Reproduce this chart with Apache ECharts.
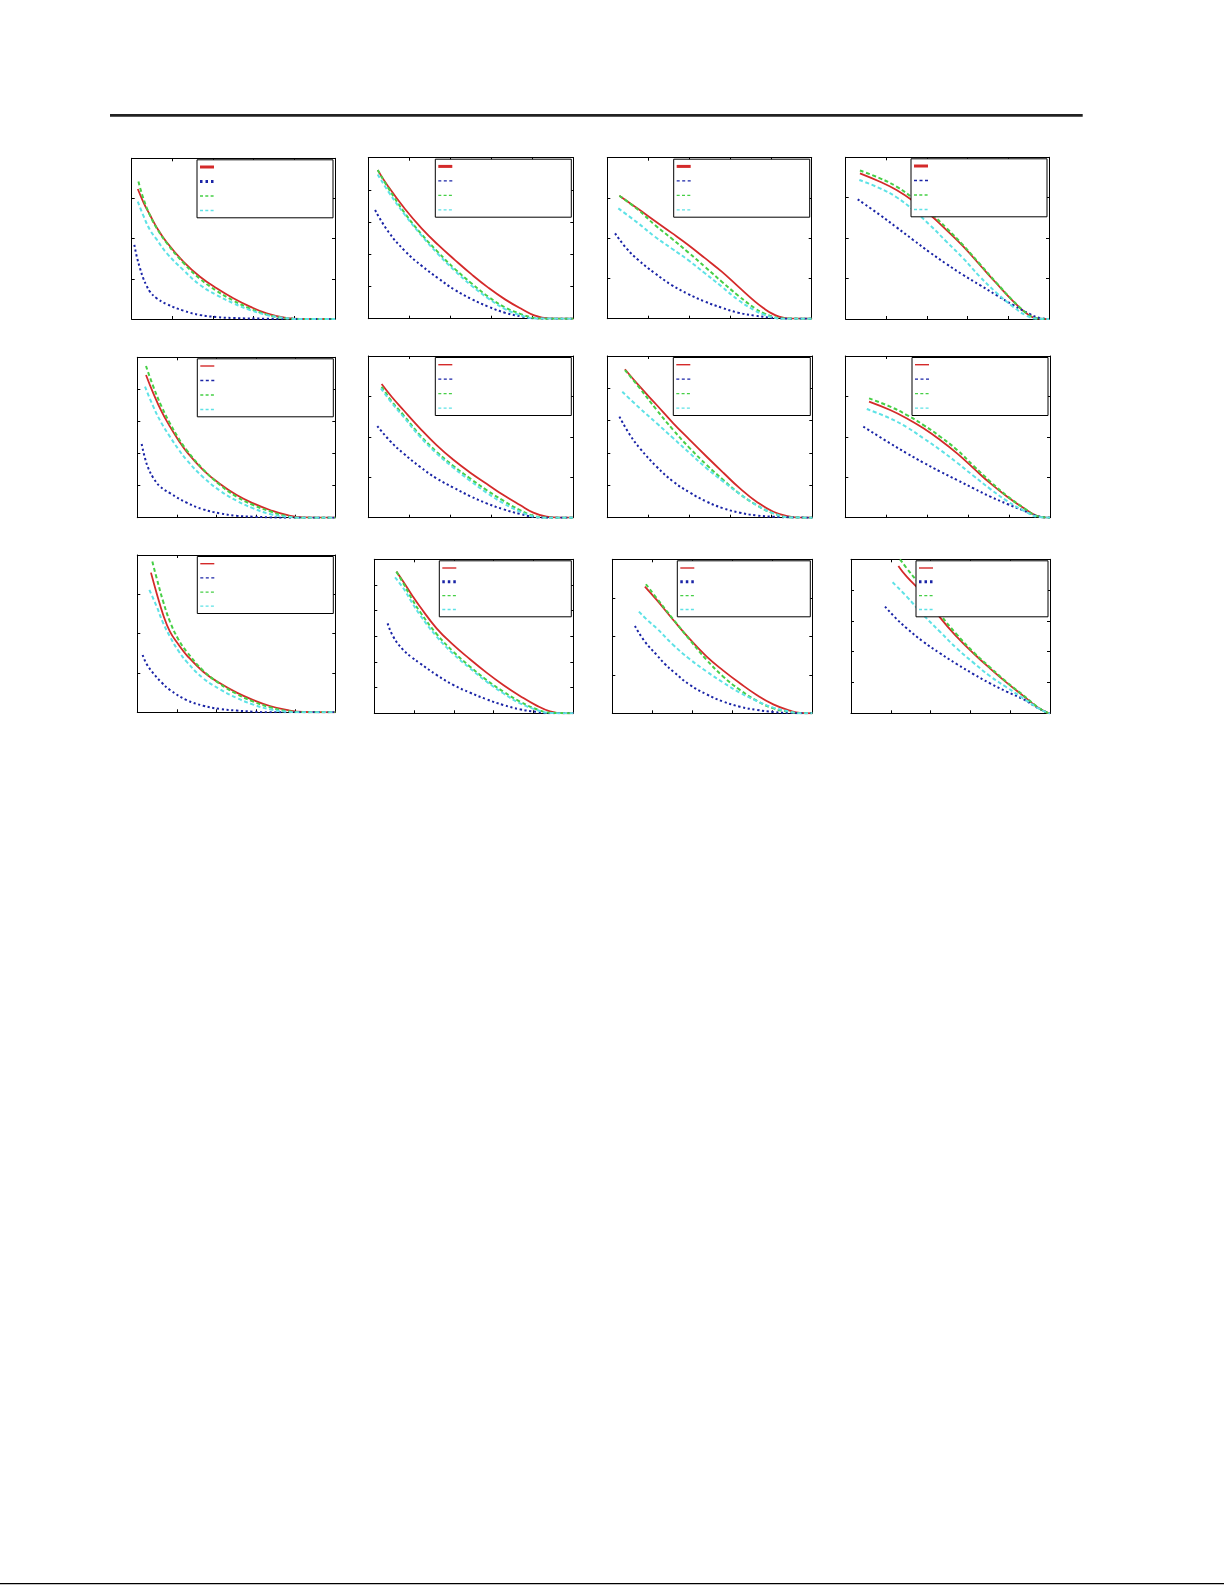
<!DOCTYPE html>
<html><head><meta charset="utf-8">
<script src="https://cdn.jsdelivr.net/npm/echarts@6/dist/echarts.min.js"></script>
<style>html,body{margin:0;padding:0;background:#fff}#c{width:1225px;height:1585px}</style>
</head><body><div id="c"></div>
<script>
// y-axis interval counts per panel (x axis always 0..100 in 5 steps)
const yIntervals = [4,5,4,4,5,4,5,4,4,6,4,5];
const xMin = 0, xMax = 100, xStep = 20;

// Panel data: [x %, y % of axis range]
const p1Red   = [[3,80.9],[6,72],[9,64.7],[12.3,57],[17.2,47.8],[25.4,35.7],[33.6,26.3],[41.8,19.1],[50,12.9],[58.2,7.7],[66.4,3.5],[74.6,1.0],[82.8,0],[100,0]];
const p1Blue  = [[1.3,46.1],[2.5,38.8],[4.1,31.5],[5.7,25.3],[7.4,20.5],[9,17],[12.3,12.9],[17.2,9.3],[25.4,5.2],[33.6,2.5],[41.8,1.2],[50,0.6],[66.4,0.2],[100,0]];
const p1Green = [[3.3,85.5],[6,74],[9,64.5],[12.3,56.5],[17.2,47.3],[25.4,35],[33.6,25],[41.8,17.5],[50,11.5],[58.2,6.5],[66.4,2.8],[74.6,0.6],[82.8,0],[100,0]];
const p1Cyan  = [[3,73],[6,63.5],[9,55.4],[12.3,49.5],[17.2,41],[25.4,30.5],[33.6,21.2],[41.8,14.9],[50,9.8],[58.2,5.6],[66.4,2.5],[74.6,0.8],[82.8,0],[100,0]];

const p2Red   = [[4.6,92.3],[9.8,82],[17.9,68.1],[26,56.1],[34.1,45.8],[42.3,36.4],[50.4,27.5],[58.5,19.3],[66.7,12],[74.8,6],[81.3,1.9],[87.8,0.2],[100,0]];
const p2Blue  = [[3.3,67.5],[9.8,54],[17.9,42],[26,32.9],[34.1,25.1],[42.3,17.8],[50.4,12.2],[58.5,7.5],[66.7,3.7],[74.8,1.4],[81.3,0.2],[87.8,0],[100,0]];
const p2Green = [[4.6,92.3],[9.8,81],[17.9,65.4],[26,52.4],[34.1,41.2],[42.3,30.8],[50.4,21.9],[58.5,13.7],[66.7,7],[74.8,2.7],[79.7,0.8],[84.6,0],[100,0]];
const p2Cyan  = [[4.6,89.6],[9.8,78.9],[17.9,64.4],[26,51.6],[34.1,40],[42.3,29.6],[50.4,20.5],[58.5,12.6],[66.7,6],[74.8,1.9],[81.3,0.2],[100,0]];

const p3Red   = [[5.9,76.4],[15.2,68.1],[23.3,60.7],[31.5,53.3],[39.6,45.8],[47.8,37.6],[56,29.2],[64.1,19.9],[72.3,10.6],[76.4,6.6],[80.4,3.3],[84,1.3],[87,0.4],[91.8,0],[100,0]];
const p3Blue  = [[3.8,53],[9.5,43.5],[15.2,36.4],[23.3,28.2],[31.5,20.9],[39.6,15.3],[47.8,10.6],[56,6.8],[64.1,3.7],[72.3,1.9],[80.4,0.6],[88.6,0],[100,0]];
const p3Green = [[5.9,76.4],[15.2,67.5],[23.3,58.2],[31.5,49.8],[39.6,41.2],[47.8,32.2],[56,23],[64.1,14.3],[72.3,6.4],[76.4,3.5],[80.4,1.4],[85.3,0.2],[100,0]];
const p3Cyan  = [[5.4,68.5],[15.2,59.2],[23.3,50.9],[31.5,43.6],[39.6,36.4],[47.8,28.2],[56,19.9],[64.1,11.6],[72.3,5],[76.4,2.7],[80.4,1],[85.3,0],[100,0]];

const p4Red   = [[7,90.1],[16.9,84.9],[25,79.8],[33.2,73],[41.4,64.6],[49.6,55],[57.8,44.9],[66,33.4],[74.1,22.1],[82.3,11.1],[88.9,3.5],[93.8,0.4],[100,0]];
const p4Blue  = [[5.9,74],[16.9,64.3],[25,56.7],[33.2,48.9],[41.4,41.2],[49.6,34],[57.8,27.2],[66,21],[74.1,14.8],[82.3,8.7],[90.5,3.1],[95.4,0.6],[100,0]];
const p4Green = [[7,91.8],[16.9,87],[25,81.9],[33.2,74.6],[41.4,66],[49.6,56.2],[57.8,45.6],[66,34],[74.1,22.5],[82.3,11.3],[88.9,3.7],[93.8,0.4],[100,0]];
const p4Cyan  = [[6.7,86],[16.9,80.8],[25,75.3],[33.2,67.4],[41.4,58.1],[49.6,47.8],[57.8,37.5],[66,26.2],[74.1,16.3],[82.3,7.6],[88.9,2.1],[93.8,0.2],[100,0]];

const p5Red   = [[4.4,89],[8.1,77.5],[12.3,66.1],[16.5,56.8],[20.7,48.5],[24.9,41.2],[33.3,29.7],[41.8,21],[50.2,14.1],[58.6,8.9],[67,4.8],[75.4,1.7],[83.8,0.2],[100,0]];
const p5Blue  = [[2.2,45.9],[3.9,37],[5.6,30.8],[8.1,24.8],[11.4,19.6],[16.5,15.3],[24.9,9.4],[33.3,5.2],[41.8,2.7],[50.2,1.2],[58.6,0.6],[67,0.2],[75.4,0],[100,0]];
const p5Green = [[4.4,94.6],[8.1,81.7],[12.3,69.2],[16.5,58.8],[20.7,49.8],[24.9,42.2],[33.3,30.1],[41.8,20.4],[50.2,13.1],[58.6,7.9],[67,4],[75.4,1],[83.8,0],[100,0]];
const p5Cyan  = [[3.9,81.7],[8.1,69.2],[12.3,58.8],[16.5,50.5],[20.7,42.8],[24.9,36],[33.3,25.2],[41.8,16.8],[50.2,10.6],[58.6,5.8],[67,2.3],[75.4,0.6],[83.8,0],[100,0]];

const p6Red   = [[6.5,82.7],[11.4,74.8],[17.1,66.6],[25.2,55.3],[33.3,44.9],[41.5,35.8],[49.6,28],[57.7,21],[65.9,14],[74,7.8],[80.5,3.1],[87,0.6],[93.5,0],[100,0]];
const p6Blue  = [[4.4,56.7],[10.5,47.6],[17.1,39.8],[25.2,31.5],[33.3,24.3],[41.5,18.6],[49.6,13.4],[57.7,8.9],[65.9,5.2],[74,2.3],[80.5,0.6],[87,0],[100,0]];
const p6Green = [[6.5,81],[11.4,72],[17.1,63.5],[25.2,51.1],[33.3,40.8],[41.5,32],[49.6,24.3],[57.7,17.1],[65.9,10.5],[74,4.7],[80.5,1.2],[87,0],[100,0]];
const p6Cyan  = [[6.2,80],[11.4,71],[17.1,62.5],[25.2,50.1],[33.3,39.8],[41.5,30.9],[49.6,22.9],[57.7,15.5],[65.9,8.9],[74,3.7],[80.5,0.8],[87,0],[100,0]];

const p7Red   = [[8.6,91.8],[15.9,81],[24.1,69.7],[32.2,58.4],[40.3,48],[48.5,37.7],[56.6,27.8],[64.7,18.1],[72.8,9.9],[81,3.7],[89.1,0.6],[94,0],[100,0]];
const p7Blue  = [[5.9,62.5],[10.9,51.5],[15.9,42.9],[24.1,31.5],[32.2,22.3],[40.3,15.5],[48.5,9.9],[56.6,5.8],[64.7,3.1],[72.8,1.4],[81,0.6],[89.1,0.2],[100,0]];
const p7Green = [[8.6,91.3],[15.9,80],[24.1,66.6],[32.2,54.2],[40.3,42.9],[48.5,32.6],[56.6,23.3],[64.7,14.6],[72.8,7.8],[81,2.7],[89.1,0.2],[100,0]];
const p7Cyan  = [[7.3,77.9],[15.9,67.6],[24.1,58.4],[32.2,49.1],[40.3,39.8],[48.5,30.5],[56.6,22.3],[64.7,14.6],[72.8,7.8],[81,2.7],[89.1,0.2],[100,0]];

const p8Red   = [[11.6,71.8],[21.9,66.6],[30.1,61.4],[38.2,55.3],[46.4,48],[54.6,39.8],[62.7,30.5],[70.9,21.2],[79.1,13],[87.3,5.8],[93.8,1],[98.7,0],[100,0]];
const p8Blue  = [[8.8,56.3],[21.9,46],[30.1,39.8],[38.2,34],[46.4,28.5],[54.6,23.3],[62.7,18.1],[70.9,13],[79.1,8.5],[87.3,4.3],[93.8,1],[100,0]];
const p8Green = [[11.6,73.8],[21.9,68.7],[30.1,63.5],[38.2,57.3],[46.4,50.1],[54.6,41.9],[62.7,32],[70.9,22.3],[79.1,13.4],[87.3,6],[93.8,1],[100,0]];
const p8Cyan  = [[10.5,67.2],[21.9,61.4],[30.1,55.9],[38.2,49.1],[46.4,41.9],[54.6,34],[62.7,25.8],[70.9,17.7],[79.1,10.3],[87.3,4.3],[93.8,0.6],[100,0]];

const p9Red   = [[6.9,88.8],[9.8,75.6],[13.1,61.9],[16.5,51.3],[20.7,43.3],[24.9,36.4],[33.3,25.8],[41.8,18.4],[50.2,12.5],[58.6,7.8],[67,4],[75.4,1.5],[83.8,0.2],[100,0]];
const p9Blue  = [[2.7,36.4],[4.7,30.7],[8.1,24.8],[12.3,18.9],[16.5,14.2],[24.9,7.8],[33.3,4.2],[41.8,2.1],[50.2,1.1],[58.6,0.4],[67,0],[100,0]];
const p9Green = [[7.6,95.8],[9.8,85.2],[13.1,70.3],[16.5,57.6],[20.7,46.5],[24.9,38.6],[33.3,26.5],[41.8,18],[50.2,11.7],[58.6,6.8],[67,3.2],[75.4,0.8],[83.8,0],[100,0]];
const p9Cyan  = [[6.1,77.8],[9.8,67.2],[13.1,56.6],[16.5,48.1],[20.7,39.2],[24.9,32.2],[33.3,21.6],[41.8,14.6],[50.2,9.1],[58.6,4.9],[67,1.9],[75.4,0.4],[83.8,0],[100,0]];

const p10Red   = [[11.1,92],[14.6,85.5],[18.8,77],[22.9,69.3],[31.3,55.2],[39.7,44.4],[48.1,35.1],[56.4,26.4],[64.8,18.4],[73.2,11.3],[81.6,5],[88.3,1.3],[95,0],[100,0]];
const p10Blue  = [[6.7,58.4],[9.5,49.8],[14.6,41.1],[18.8,36.4],[22.9,32.5],[31.3,24.9],[39.7,18.4],[48.1,13.4],[56.4,9.1],[64.8,5.4],[73.2,2.6],[81.6,0.9],[88.3,0],[100,0]];
const p10Green = [[11.1,92],[14.6,84.4],[18.8,74.5],[22.9,66],[31.3,51.5],[39.7,40],[48.1,30.3],[56.4,21.6],[64.8,14.1],[73.2,7.6],[81.6,2.6],[88.3,0.4],[100,0]];
const p10Cyan  = [[10.4,88.3],[14.6,81.2],[18.8,72.2],[22.9,63.9],[31.3,49.8],[39.7,38.5],[48.1,29.2],[56.4,20.6],[64.8,13],[73.2,6.5],[81.6,2.2],[88.3,0.2],[100,0]];

const p11Red   = [[16.3,82.3],[22.2,73.6],[30.5,60.6],[38.8,48.1],[47.2,36.8],[55.5,27.7],[63.8,19.5],[72.2,11.9],[80.5,5.8],[88.8,1.7],[93.8,0.2],[100,0]];
const p11Blue  = [[11.3,56.7],[16.3,46.5],[22.2,37.9],[26.3,32],[30.5,27.1],[38.8,18.4],[47.2,12.3],[55.5,7.6],[63.8,4.3],[72.2,2.2],[80.5,0.9],[88.8,0.2],[100,0]];
const p11Green = [[16.8,83.8],[22.2,74.7],[30.5,61],[38.8,47.6],[47.2,34.6],[55.5,23.8],[63.8,15.2],[72.2,8.2],[80.5,3.2],[88.8,0.9],[93.8,0],[100,0]];
const p11Cyan  = [[13.3,66],[17.8,60.2],[22.2,55.2],[30.5,44.4],[38.8,35.1],[47.2,27.1],[55.5,19.9],[63.8,13.4],[72.2,8],[80.5,3.7],[88.8,1.1],[93.8,0],[100,0]];

const p12Red   = [[23.8,95.7],[28,88.7],[36.3,77.5],[44.7,62.3],[53.1,49.8],[61.5,39],[69.8,29.2],[78.2,19.9],[86.6,11.3],[93.3,4.3],[98.3,0.6],[100,0]];
const p12Blue  = [[17.1,69.3],[22.5,61.8],[28,55.2],[36.3,46.5],[44.7,39],[53.1,32],[61.5,25.5],[69.8,19.5],[78.2,14.1],[86.6,9.1],[93.3,3.9],[98.3,0.6],[100,0]];
const p12Green = [[24.6,100],[28,94.2],[36.3,80.5],[44.7,64.5],[53.1,51.3],[61.5,39.8],[69.8,29.9],[78.2,20.3],[86.6,11.7],[93.3,4.5],[98.3,0.6],[100,0]];
const p12Cyan  = [[20.9,85.1],[28,75.8],[36.3,63.9],[44.7,53],[53.1,42.2],[61.5,32.9],[69.8,24.2],[78.2,16.9],[86.6,9.7],[93.3,3.9],[98.3,0.6],[100,0]];

const panels = [
  [p1Red,p1Blue,p1Green,p1Cyan],[p2Red,p2Blue,p2Green,p2Cyan],[p3Red,p3Blue,p3Green,p3Cyan],[p4Red,p4Blue,p4Green,p4Cyan],
  [p5Red,p5Blue,p5Green,p5Cyan],[p6Red,p6Blue,p6Green,p6Cyan],[p7Red,p7Blue,p7Green,p7Cyan],[p8Red,p8Blue,p8Green,p8Cyan],
  [p9Red,p9Blue,p9Green,p9Cyan],[p10Red,p10Blue,p10Green,p10Cyan],[p11Red,p11Blue,p11Green,p11Cyan],[p12Red,p12Blue,p12Green,p12Cyan]
];

// ---- layout (pixels) ----
const gridBoxes = [
  [131.7,158.3,203.3,160.7],[368.3,157.7,205,161],[607.3,157.7,204.4,161],[845.7,157.3,203.3,161.7],
  [137.3,357.3,198,160.4],[368.3,356,205,161.7],[607.3,356,205,161.7],[845.3,356,204.7,161.7],
  [137.3,555,198,157.3],[374.3,559.3,199,154],[612.3,559.3,200,154],[851,559.3,199,154]
];
const legendW = [136,136,136,136, 136,136,137,136, 136,132,133,132];
const legendH = [58,58,58,58, 58,58,58,58, 57,56,56,56];
const redThick = [1,1,1,1, 0,0,0,0, 0,0,0,0];
const blueThick = [1,0,0,0, 0,0,0,0, 0,1,1,1];

const COLORS = ['#d42a2a','#1a24a6','#46cf46','#5ee2e6'];
const curveStyles = [
  {width:1.8, type:'solid'},
  {width:2, type:[2.2,2.6]},
  {width:2, type:[4,2.6]},
  {width:2, type:[4,2.6]}
];

const grid=[], xAxis=[], yAxis=[], series=[], graphic=[];
const axisCommon = {
  axisLine:{show:true,onZero:false,lineStyle:{color:'#000',width:1}},
  axisTick:{show:true,inside:true,length:3,lineStyle:{color:'#000',width:1}},
  axisLabel:{show:false}, splitLine:{show:false}
};
panels.forEach((curves,i)=>{
  const [l,t,w,h] = gridBoxes[i];
  grid.push({left:l,top:t,width:w,height:h,containLabel:false});
  const n = yIntervals[i];
  ['bottom','top'].forEach(pos=>xAxis.push(Object.assign({type:'value',gridIndex:i,position:pos,min:xMin,max:xMax,interval:xStep},axisCommon)));
  ['left','right'].forEach(pos=>yAxis.push(Object.assign({type:'value',gridIndex:i,position:pos,min:0,max:n,interval:1},axisCommon)));
  curves.forEach((d,k)=>{
    series.push({
      type:'line', name:'p'+(i+1)+'-'+k, xAxisIndex:2*i, yAxisIndex:2*i,
      data:d.map(p=>[p[0], p[1]*n/100]),
      showSymbol:false, smooth:0.45, silent:true, z:2+k,
      lineStyle:{color:COLORS[k], width:curveStyles[k].width, type:curveStyles[k].type, cap:'butt'}
    });
  });
  // legend box (no text)
  const lw = legendW[i], lh = legendH[i];
  const lx = l + w - 2 - lw, ly = t + 1.5;
  graphic.push({type:'rect', z:100, shape:{x:lx,y:ly,width:lw,height:lh}, style:{fill:'#fff',stroke:'#000',lineWidth:1}});
  const step = (lh - 14.5)/3;
  for(let k=0;k<4;k++){
    let sw = 1.3, dash = null;
    if(k===0){ sw = redThick[i] ? 3 : 1.4; }
    else if(k===1){ if(blueThick[i]){ sw = 3; dash=[2.5,3]; } else { sw = 1.3; dash=[3,2.5]; } }
    else { sw = 1.3; dash=[3,2.3]; }
    graphic.push({type:'line', z:101, shape:{x1:lx+3,y1:ly+7.2+k*step,x2:lx+17,y2:ly+7.2+k*step},
      style:{stroke:COLORS[k], lineWidth:sw, lineDash:dash}});
  }
});
// page rules
graphic.push({type:'line', z:100, shape:{x1:110,y1:115.3,x2:1082.7,y2:115.3}, style:{stroke:'#222',lineWidth:2.7}});
graphic.push({type:'line', z:100, shape:{x1:0,y1:1583.6,x2:1224,y2:1583.6}, style:{stroke:'#000',lineWidth:1.2}});

const chart = echarts.init(document.getElementById('c'), null, {renderer:'canvas'});
chart.setOption({animation:false, backgroundColor:'#fff', grid, xAxis, yAxis, series, graphic});
</script>
</body></html>
